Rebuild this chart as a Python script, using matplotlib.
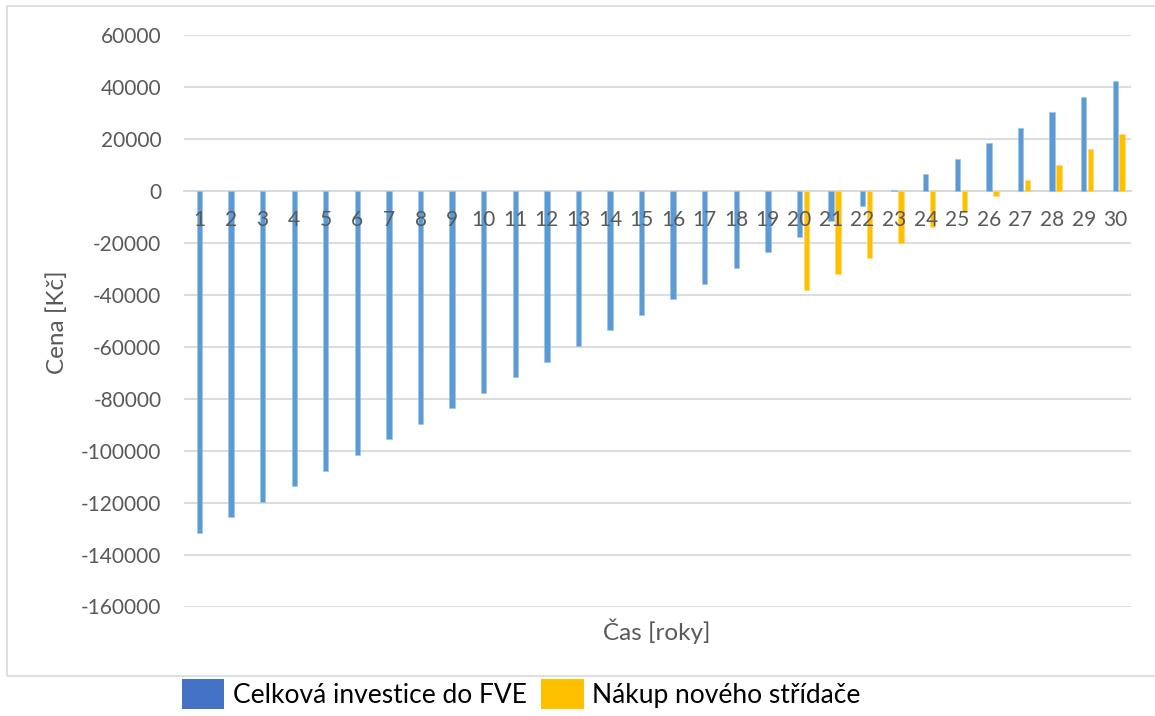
import matplotlib
matplotlib.use("Agg")
import matplotlib.pyplot as plt
from matplotlib.patches import Patch, Rectangle
import numpy as np

# Data
years = list(range(1, 31))
investice_fve = [-131700, -125700, -119700, -113700, -107700, -101700, -95700,
                 -89700, -83700, -77700, -71700, -65700, -59700, -53700, -47700,
                 -41700, -35700, -29700, -23700, -17700, -11700, -5700, 300,
                 6300, 12300, 18300, 24300, 30300, 36300, 42300]
stridac_years = list(range(20, 31))
novy_stridac = [-38000, -32000, -26000, -20000, -14000, -8000, -2000,
                4000, 10000, 16000, 22000]
series_names = ["Celková investice do FVE", "Nákup nového střídače"]
y_ticks = list(range(-160000, 60001, 20000))

BAR_BLUE = "#5B9BD5"
BAR_ORANGE = "#FFC000"
LEG_BLUE = "#4472C4"
GRID = "#D9D9D9"
TEXT = "#595959"
FONT = "Lato"

W, H = 1155, 716
fig = plt.figure(figsize=(W / 100, H / 100), dpi=100)
fig.patch.set_facecolor("white")

# chart frame
fig.add_artist(Rectangle((7 / W, 1 - 676 / H), (1170 - 7) / W, (676 - 6) / H,
                         transform=fig.transFigure, fill=False,
                         edgecolor=GRID, lw=1.2))

left, right = 183.7 / W, 1131 / W
top, bottom = 1 - 35 / H, 1 - 606.5 / H
ax = fig.add_axes([left, bottom, right - left, top - bottom])

x_blue = np.arange(len(years))
x_orange = np.array([years.index(y) for y in stridac_years]) + 0.22
bw = 0.17
ax.bar(x_blue, investice_fve, width=bw, color=BAR_BLUE, zorder=3,
       edgecolor="#9CC3E6", linewidth=0.4)
ax.bar(x_orange, novy_stridac, width=bw, color=BAR_ORANGE, zorder=3,
       edgecolor="#FFD966", linewidth=0.4)

ax.set_xlim(-0.5, len(years) - 0.5)
ax.set_ylim(-160000, 60000)
ax.set_yticks(y_ticks)
ax.set_yticklabels([str(v) for v in y_ticks], fontsize=15, color=TEXT,
                   family=FONT)
ax.grid(axis="y", color=GRID, lw=1.3, zorder=0)
ax.set_axisbelow(True)

for s in ["top", "right", "left"]:
    ax.spines[s].set_visible(False)
ax.spines["bottom"].set_position(("data", 0))
ax.spines["bottom"].set_color(GRID)
ax.spines["bottom"].set_linewidth(1.3)
ax.spines["bottom"].set_zorder(1)

ax.set_xticks(x_blue)
ax.set_xticklabels([str(y) for y in years], fontsize=15, color=TEXT,
                   family=FONT)
ax.tick_params(axis="x", length=0, pad=14)
ax.tick_params(axis="y", length=0, pad=16)
# category labels sit on top of the bars
ax.xaxis.set_zorder(5)

fig.text(57 / W, 1 - 322 / H, "Cena [Kč]", rotation=90, ha="center",
         va="center", fontsize=17.5, color=TEXT, family=FONT)
fig.text(657 / W, 1 - 631 / H, "Čas [roky]", ha="center", va="center",
         fontsize=17.5, color=TEXT, family=FONT)

handles = [Patch(facecolor=LEG_BLUE, edgecolor="none"),
           Patch(facecolor=BAR_ORANGE, edgecolor="none")]
leg = fig.legend(handles, series_names, loc="upper left",
                 bbox_to_anchor=(182 / W, 1 - 679 / H), ncol=2, frameon=False,
                 prop={"family": FONT, "size": 19}, borderpad=0,
                 borderaxespad=0, handlelength=1.6, handleheight=1.4,
                 handletextpad=0.33, columnspacing=0.55)
for t in leg.get_texts():
    t.set_color("black")

fig.savefig("out.png", dpi=100)
